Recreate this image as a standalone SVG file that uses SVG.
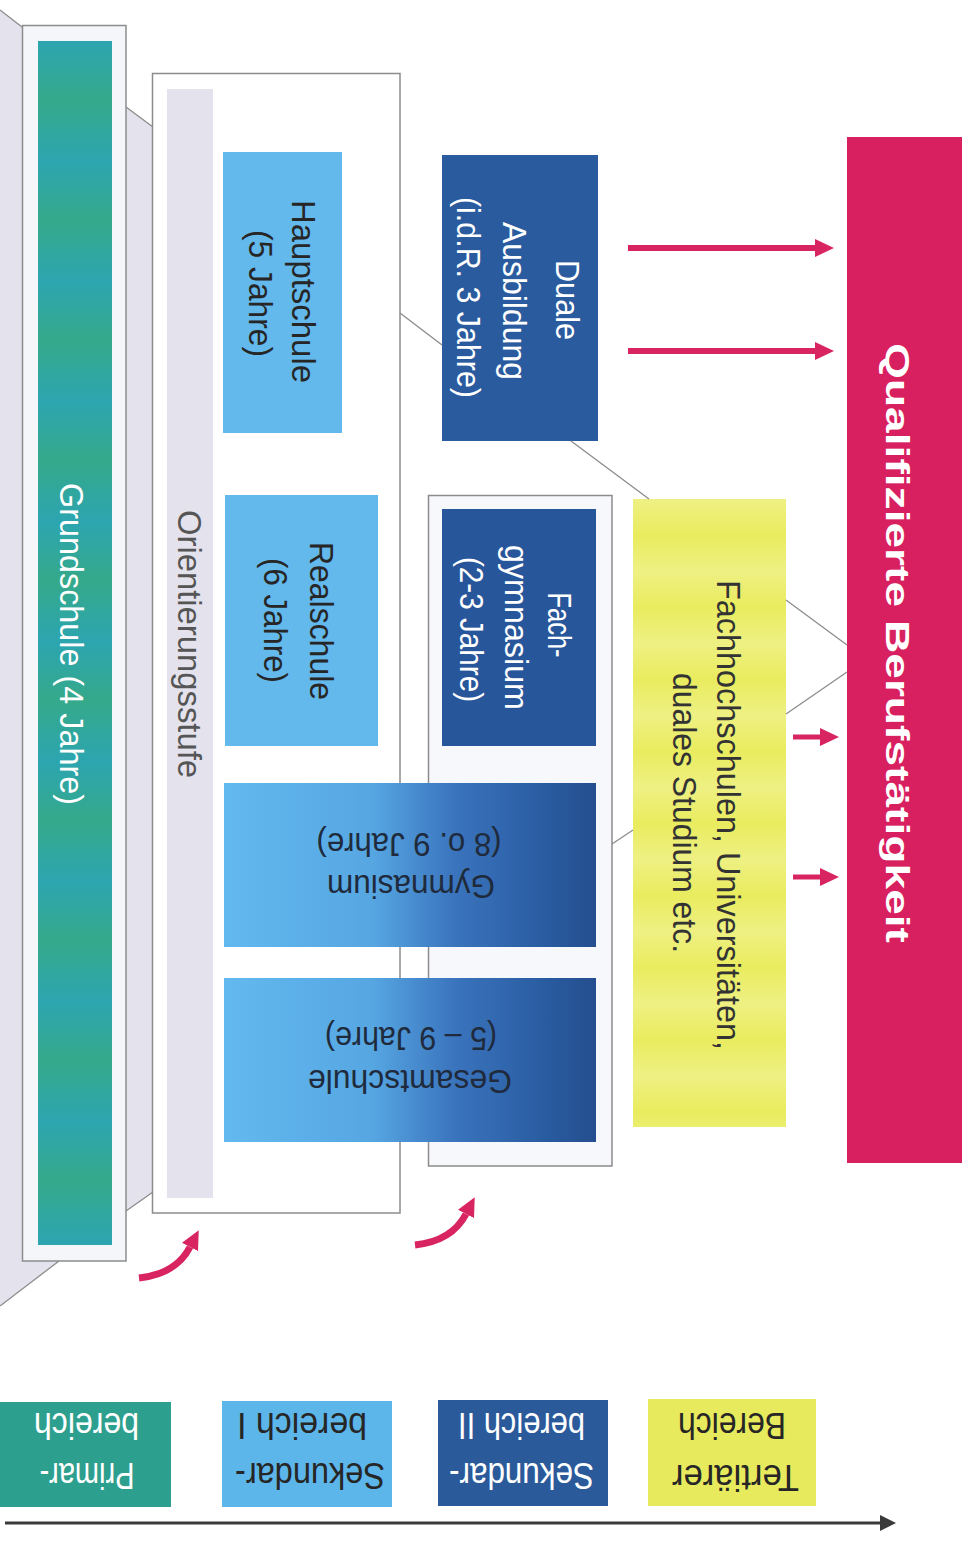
<svg xmlns="http://www.w3.org/2000/svg" width="971" height="1567" viewBox="0 0 971 1567">
<defs>
<style>
.t{font-family:"Liberation Sans",Arial,Helvetica,sans-serif;font-size:33px;text-anchor:middle}
.lg{font-family:"Liberation Sans",Arial,Helvetica,sans-serif;font-size:37px;text-anchor:middle}
.w{fill:#ffffff}
.d{fill:#262626}
.frame{stroke:#8c8c8c;stroke-width:1.5}
.diag{stroke:#8c8c8c;stroke-width:1.3;fill:none}
.lav{fill:#e4e2ec}
.red{stroke:#d92462;fill:none}
</style>
<linearGradient id="gGreen" gradientUnits="userSpaceOnUse" x1="0" y1="41" x2="0" y2="101" spreadMethod="reflect">
<stop offset="0" stop-color="#2ca5b0"/><stop offset="1" stop-color="#35a98a"/>
</linearGradient>
<linearGradient id="gYellow" gradientUnits="userSpaceOnUse" x1="0" y1="499" x2="0" y2="535" spreadMethod="reflect">
<stop offset="0" stop-color="#eef083"/><stop offset="1" stop-color="#e9ec5e"/>
</linearGradient>
<linearGradient id="gBlue" x1="0" y1="0" x2="1" y2="0">
<stop offset="0" stop-color="#62b9ef"/><stop offset="0.4" stop-color="#56a6e2"/><stop offset="0.62" stop-color="#3a74bd"/><stop offset="0.85" stop-color="#2a5da2"/><stop offset="1" stop-color="#244e8f"/>
</linearGradient>
<marker id="ah" markerUnits="userSpaceOnUse" markerWidth="20" markerHeight="20" refX="0" refY="10" orient="auto">
<path d="M0,1 L19,10 L0,19 z" fill="#d92462"/>
</marker>
<marker id="ahk" markerUnits="userSpaceOnUse" markerWidth="16" markerHeight="16" refX="0" refY="8" orient="auto">
<path d="M0,0 L16,8 L0,16 z" fill="#3a3a3a"/>
</marker>
</defs>
<rect width="971" height="1567" fill="#ffffff"/>

<g id="funnel">
<polygon class="lav" points="0,10 22,27 22,1261 59,1261 0,1306"/>
<polygon class="lav" points="126,107 153,127 153,1192 126,1211"/>
</g>

<g id="grundschule">
<rect class="frame" x="22.5" y="25.5" width="103.5" height="1235.5" fill="#f4f6fa"/>
<rect x="38" y="41" width="74" height="1204" fill="url(#gGreen)"/>
<text class="t w" transform="translate(60,644) rotate(90)" textLength="322" lengthAdjust="spacingAndGlyphs">Grundschule (4 Jahre)</text>
</g>

<g id="sekundar1-frame">
<rect class="frame" x="152.5" y="73.5" width="247.5" height="1139.5" fill="#ffffff"/>
</g>

<g id="orientierungsstufe">
<rect x="167" y="89" width="46" height="1109" fill="#e4e2ec"/>
<text class="t" fill="#555555" transform="translate(178,644) rotate(90)" textLength="268" lengthAdjust="spacingAndGlyphs">Orientierungsstufe</text>
</g>

<g id="sekundar2-frame">
<rect class="frame" x="428.5" y="495.5" width="183.5" height="670.5" fill="#f6f8fb"/>
</g>

<g id="hauptschule">
<rect x="223" y="152" width="119" height="281" fill="#63b8ec"/>
<text class="t d" transform="translate(292,291.5) rotate(90)" textLength="183" lengthAdjust="spacingAndGlyphs">Hauptschule</text>
<text class="t d" transform="translate(249,293.5) rotate(90)" textLength="127" lengthAdjust="spacingAndGlyphs">(5 Jahre)</text>
</g>

<g id="realschule">
<rect x="225" y="495" width="153" height="251" fill="#63b8ec"/>
<text class="t d" transform="translate(310,621) rotate(90)" textLength="158" lengthAdjust="spacingAndGlyphs">Realschule</text>
<text class="t d" transform="translate(264,620.5) rotate(90)" textLength="125" lengthAdjust="spacingAndGlyphs">(6 Jahre)</text>
</g>

<g id="duale-ausbildung">
<rect x="442" y="155" width="156" height="286" fill="#2a5b9e"/>
<text class="t w" transform="translate(556,300) rotate(90)" textLength="80" lengthAdjust="spacingAndGlyphs">Duale</text>
<text class="t w" transform="translate(503,301) rotate(90)" textLength="158" lengthAdjust="spacingAndGlyphs">Ausbildung</text>
<text class="t w" transform="translate(457,297.5) rotate(90)" textLength="201" lengthAdjust="spacingAndGlyphs">(i.d.R. 3 Jahre)</text>
</g>

<g id="fachgymnasium">
<rect x="442" y="509" width="154" height="237" fill="#28569a"/>
<text class="t w" transform="translate(548,625) rotate(90)" textLength="65" lengthAdjust="spacingAndGlyphs">Fach-</text>
<text class="t w" transform="translate(505,627.5) rotate(90)" textLength="165" lengthAdjust="spacingAndGlyphs">gymnasium</text>
<text class="t w" transform="translate(460,629.5) rotate(90)" textLength="145" lengthAdjust="spacingAndGlyphs">(2-3 Jahre)</text>
</g>

<g id="gymnasium">
<rect x="224" y="783" width="372" height="164" fill="url(#gBlue)"/>
<text class="t" fill="#1f2b3c" transform="translate(411,875) rotate(180)" textLength="168" lengthAdjust="spacingAndGlyphs">Gymnasium</text>
<text class="t" fill="#1f2b3c" transform="translate(409,833) rotate(180)" textLength="185" lengthAdjust="spacingAndGlyphs">(8 o. 9 Jahre)</text>
</g>

<g id="gesamtschule">
<rect x="224" y="978" width="372" height="164" fill="url(#gBlue)"/>
<text class="t" fill="#1f2b3c" transform="translate(410,1070) rotate(180)" textLength="204" lengthAdjust="spacingAndGlyphs">Gesamtschule</text>
<text class="t" fill="#1f2b3c" transform="translate(411,1027) rotate(180)" textLength="172" lengthAdjust="spacingAndGlyphs">(5 – 9 Jahre)</text>
</g>

<g id="hochschulen">
<rect x="633" y="499" width="153" height="628" fill="url(#gYellow)"/>
<text class="t" fill="#333333" font-size="31" transform="translate(717,815) rotate(90)" textLength="470" lengthAdjust="spacingAndGlyphs">Fachhochschulen, Universitäten,</text>
<text class="t" fill="#333333" font-size="31" transform="translate(673,813) rotate(90)" textLength="280" lengthAdjust="spacingAndGlyphs">duales Studium etc.</text>
</g>

<g id="berufstaetigkeit">
<rect x="847" y="137" width="115" height="1026" fill="#d81f5f"/>
<text class="t w" font-size="50" font-weight="bold" transform="translate(886,643) rotate(90)" textLength="600" lengthAdjust="spacingAndGlyphs">Qualifizierte Berufstätigkeit</text>
</g>

<g id="connectors">
<line class="diag" x1="0" y1="10" x2="22" y2="27"/>
<line class="diag" x1="59" y1="1261" x2="0" y2="1306"/>
<line class="diag" x1="126" y1="107" x2="153" y2="127"/>
<line class="diag" x1="126" y1="1211" x2="153" y2="1192"/>
<line class="diag" x1="400" y1="313" x2="442" y2="345"/>
<line class="diag" x1="571" y1="441" x2="649" y2="499"/>
<line class="diag" x1="612" y1="844" x2="633" y2="830"/>
<line class="diag" x1="786" y1="600" x2="847" y2="645"/>
<line class="diag" x1="786" y1="714" x2="847" y2="672"/>
<line class="red" stroke-width="6" x1="628" y1="248" x2="815" y2="248" marker-end="url(#ah)"/>
<line class="red" stroke-width="6" x1="628" y1="351" x2="815" y2="351" marker-end="url(#ah)"/>
<line class="red" stroke-width="5" x1="793" y1="737" x2="820" y2="737" marker-end="url(#ah)"/>
<line class="red" stroke-width="5" x1="793" y1="877" x2="820" y2="877" marker-end="url(#ah)"/>
<path class="red" stroke-width="7" d="M139,1278 Q176,1274 190,1247" marker-end="url(#ah)"/>
<path class="red" stroke-width="7" d="M415,1245 Q452,1241 466,1214" marker-end="url(#ah)"/>
<line stroke="#3a3a3a" stroke-width="3" x1="5" y1="1523" x2="880" y2="1523" marker-end="url(#ahk)"/>
</g>

<g id="legend-primar">
<rect x="0" y="1402" width="171" height="105" fill="#2d9f8e"/>
<text class="lg w" transform="translate(87,1463) rotate(180)" textLength="95" lengthAdjust="spacingAndGlyphs">Primar-</text>
<text class="lg w" transform="translate(86.5,1413) rotate(180)" textLength="105" lengthAdjust="spacingAndGlyphs">bereich</text>
</g>
<g id="legend-sek1">
<rect x="222" y="1401" width="170" height="106" fill="#5db6ea"/>
<text class="lg d" transform="translate(310,1463) rotate(180)" textLength="150" lengthAdjust="spacingAndGlyphs">Sekundar-</text>
<text class="lg d" transform="translate(302,1413) rotate(180)" textLength="130" lengthAdjust="spacingAndGlyphs">bereich I</text>
</g>
<g id="legend-sek2">
<rect x="438" y="1400" width="170" height="106" fill="#2b5a9b"/>
<text class="lg w" transform="translate(521.5,1463) rotate(180)" textLength="145" lengthAdjust="spacingAndGlyphs">Sekundar-</text>
<text class="lg w" transform="translate(521.5,1413) rotate(180)" textLength="127" lengthAdjust="spacingAndGlyphs">bereich II</text>
</g>
<g id="legend-tertiaer">
<rect x="648" y="1399" width="168" height="107" fill="#e7ea5c"/>
<text class="lg d" transform="translate(735.5,1465) rotate(180)" textLength="127" lengthAdjust="spacingAndGlyphs">Tertiärer</text>
<text class="lg d" transform="translate(732,1413) rotate(180)" textLength="108" lengthAdjust="spacingAndGlyphs">Bereich</text>
</g>
</svg>
